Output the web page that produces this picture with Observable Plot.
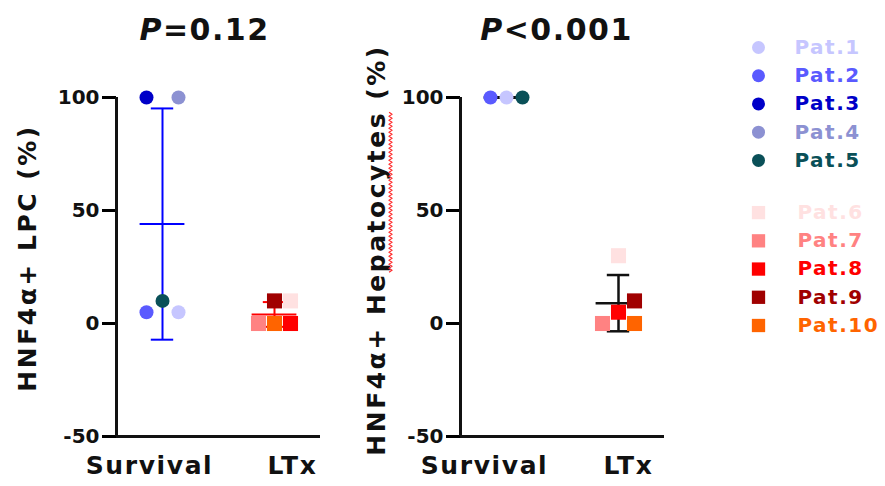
<!DOCTYPE html>
<html>
<head>
<meta charset="utf-8">
<script src="https://cdn.jsdelivr.net/npm/d3@7"></script>
<script src="https://cdn.jsdelivr.net/npm/@observablehq/plot@0.6"></script>
<style>
  body { margin: 0; background: #fff; }
  #wrap { position: relative; width: 885px; height: 486px; overflow: hidden; font-family: "DejaVu Sans", sans-serif; }
  #wrap svg { position: absolute; top: 0; }
</style>
</head>
<body>
<div id="wrap"></div>
<script>
// ---------- data ----------
const patients = ["Pat.1","Pat.2","Pat.3","Pat.4","Pat.5","Pat.6","Pat.7","Pat.8","Pat.9","Pat.10"];
const patientGroup = ["Survival","Survival","Survival","Survival","Survival","LTx","LTx","LTx","LTx","LTx"];
const patientColors = ["#c6c6ff","#5a5aff","#0000c8","#8c91d2","#0a5058","#ffe1e1","#ff8282","#ff0000","#a00000","#ff6400"];
const groups = ["Survival","LTx"];

const lpcPatients = ["Pat.1","Pat.2","Pat.3","Pat.4","Pat.5","Pat.6","Pat.7","Pat.8","Pat.9","Pat.10"];
const lpcValues   = [5, 5, 100, 100, 10, 10, 0, 0, 10, 0];

const hepPatients = ["Pat.1","Pat.2","Pat.5","Pat.6","Pat.7","Pat.8","Pat.9","Pat.10"];
const hepValues   = [100, 100, 100, 30, 0, 5, 10, 0];

const yTicks = [-50, 0, 50, 100];
const pLabels = ["=0.12", "<0.001"];
const yLabels = ["HNF4\u03b1+ LPC (%)", "HNF4\u03b1+ Hepatocytes (%)"];

// ---------- layout / style config ----------
const FONT = "DejaVu Sans, sans-serif";
const xDomain = [-0.4107, 1.4107];
const colStep = 16 / 112;
const meanHalf = 0.2, capHalf = 0.1;
const lpcColumn = {"Pat.1":1,"Pat.2":-1,"Pat.3":-1,"Pat.4":1,"Pat.5":0,"Pat.6":1,"Pat.7":-1,"Pat.8":1,"Pat.9":0,"Pat.10":0};
const hepColumn = {"Pat.1":0,"Pat.2":-1,"Pat.5":1,"Pat.6":0,"Pat.7":-1,"Pat.8":0,"Pat.9":1,"Pat.10":1};

const wrap = document.getElementById("wrap");

function makePanel(cfg) {
  const rows = cfg.patients.map((p, i) => {
    const k = patients.indexOf(p);
    const gi = groups.indexOf(patientGroup[k]);
    return {patient: p, group: groups[gi], gi, value: cfg.values[i], x: gi + cfg.column[p] * colStep, fill: patientColors[k]};
  });
  const stats = groups.map((g, gi) => {
    const v = rows.filter(r => r.gi === gi).map(r => r.value);
    const m = d3.mean(v), s = d3.deviation(v) || 0;
    return {gi, mean: m, lo: m - s, hi: m + s, color: cfg.errColors[gi]};
  });
  const caps = stats.flatMap(s => [{...s, y: s.lo}, {...s, y: s.hi}]);
  const labels = groups.map((g, gi) => ({label: g, gi}));

  const svg = Plot.plot({
    width: cfg.width, height: 486,
    marginLeft: cfg.marginLeft, marginRight: cfg.marginRight, marginTop: 97, marginBottom: 50,
    x: {domain: xDomain, axis: null},
    y: {domain: [-50, 100], axis: null},
    color: {type: "identity"},
    style: {fontFamily: FONT, background: "transparent", overflow: "visible"},
    marks: [
      Plot.ruleX(stats, {x: "gi", y1: "lo", y2: "hi", stroke: "color", strokeWidth: cfg.errWidth}),
      Plot.ruleY(stats, {y: "mean", x1: d => d.gi - meanHalf, x2: d => d.gi + meanHalf, stroke: "color", strokeWidth: cfg.errWidth}),
      Plot.ruleY(caps, {y: "y", x1: d => d.gi - capHalf, x2: d => d.gi + capHalf, stroke: "color", strokeWidth: cfg.errWidth}),
      Plot.dot(rows.filter(r => r.group === "Survival"), {x: "x", y: "value", r: 7, fill: "fill", symbol: "circle"}),
      Plot.dot(rows.filter(r => r.group === "LTx"), {x: "x", y: "value", r: 8.5, fill: "fill", symbol: "square"}),
      Plot.axisY({ticks: yTicks, tickFormat: d => String(d), tickSize: 14, tickPadding: 3, strokeWidth: 3, fontSize: 20, fontWeight: "bold", fill: "#111"}),
      Plot.ruleX([xDomain[0]], {y1: -50, y2: 100, strokeWidth: 3, stroke: "#111"}),
      Plot.ruleY([-50], {strokeWidth: 3, stroke: "#111"}),
      Plot.text(labels.slice(0, 1), {x: "gi", text: "label", frameAnchor: "bottom", lineAnchor: "top", dy: 20, dx: cfg.labelDx[0], fontSize: 25, fontWeight: "bold", fill: "#111"}),
      Plot.text(labels.slice(1), {x: "gi", text: "label", frameAnchor: "bottom", lineAnchor: "top", dy: 20, dx: cfg.labelDx[1], fontSize: 25, fontWeight: "bold", fill: "#111"})
    ]
  });
  svg.style.left = cfg.left + "px";
  wrap.appendChild(svg);
  const s = d3.select(svg);
  s.selectAll("text").filter(function() { return groups.includes(this.textContent); }).attr("letter-spacing", 1.6);
  // title
  const t = s.append("text").attr("x", cfg.titleX).attr("y", 40).attr("text-anchor", "middle")
    .attr("font-size", 30).attr("font-weight", "bold").attr("font-family", FONT).attr("fill", "#111")
    .attr("letter-spacing", 1.5);
  t.append("tspan").attr("font-style", "italic").text("P");
  t.append("tspan").text(cfg.pLabel);
  // y label
  const tr = `translate(${cfg.yLabelX},${cfg.yLabelY}) rotate(-90)`;
  const yl = s.append("text").attr("transform", tr)
    .attr("text-anchor", "middle").attr("font-size", 25).attr("font-weight", "bold")
    .attr("font-family", FONT).attr("fill", "#111").attr("letter-spacing", 2.5)
    .text(cfg.yLabel);
  if (cfg.squiggleWord) {
    try {
      // spell-check style red wavy underline under part of the label
      const node = yl.node();
      const str = cfg.yLabel;
      const i0 = str.indexOf(cfg.squiggleWord), i1 = i0 + cfg.squiggleWord.length - 1;
      const xa = node.getStartPositionOfChar(i0).x, xb = node.getEndPositionOfChar(i1).x;
      const pts = [];
      const per = 4, amp = 1.4, base = 5.5;
      for (let x = xa, k = 0; x <= xb; x += per / 2, k++) pts.push([x, base + (k % 2 ? amp : -amp)]);
      s.append("path").attr("transform", tr).attr("d", d3.line()(pts))
        .attr("fill", "none").attr("stroke", "#ff2a2a").attr("stroke-width", 1.2);
    } catch (e) {}
  }
}

makePanel({
  patients: lpcPatients, values: lpcValues, column: lpcColumn,
  errColors: ["#0000ff", "#ff0000"], errWidth: 2,
  width: 345, left: 0, marginLeft: 116, marginRight: 25,
  labelDx: [-13, 18], titleX: 204.5, pLabel: pLabels[0],
  yLabel: yLabels[0], yLabelX: 36, yLabelY: 258
});

makePanel({
  patients: hepPatients, values: hepValues, column: hepColumn,
  errColors: ["#111111", "#111111"], errWidth: 2.5,
  width: 385, left: 345, marginLeft: 115, marginRight: 66,
  labelDx: [-22, 10], titleX: 211.5, pLabel: pLabels[1],
  yLabel: yLabels[1], yLabelX: 40, yLabelY: 250,
  squiggleWord: "patocytes"
});

// ---------- legend ----------
const legendRows = patients.map((p, i) => ({patient: p, pos: i + (i >= 5 ? 0.85 : 0), fill: patientColors[i], group: patientGroup[i]}));
const legend = Plot.plot({
  width: 155, height: 486, marginLeft: 0, marginRight: 0, marginTop: 0, marginBottom: 0,
  x: {axis: null}, y: {domain: [0, 9.85], range: [47, 325], axis: null},
  color: {type: "identity"},
  style: {fontFamily: FONT, background: "transparent", overflow: "visible"},
  marks: [
    Plot.dot(legendRows.filter(d => d.group === "Survival"), {y: "pos", frameAnchor: "left", dx: 28, r: 6.5, fill: "fill", symbol: "circle"}),
    Plot.dot(legendRows.filter(d => d.group === "LTx"), {y: "pos", frameAnchor: "left", dx: 28, r: 7.5, fill: "fill", symbol: "square"}),
    Plot.text(legendRows.filter(d => d.group === "Survival"), {y: "pos", text: "patient", frameAnchor: "left", dx: 64, textAnchor: "start", fill: "fill", fontSize: 20, fontWeight: "bold"}),
    Plot.text(legendRows.filter(d => d.group === "LTx"), {y: "pos", text: "patient", frameAnchor: "left", dx: 67, textAnchor: "start", fill: "fill", fontSize: 20, fontWeight: "bold"})
  ]
});
legend.style.left = "730px";
wrap.appendChild(legend);
d3.select(legend).selectAll("text").filter(function() { return patients.includes(this.textContent); }).attr("letter-spacing", 1.5);
</script>
</body>
</html>
